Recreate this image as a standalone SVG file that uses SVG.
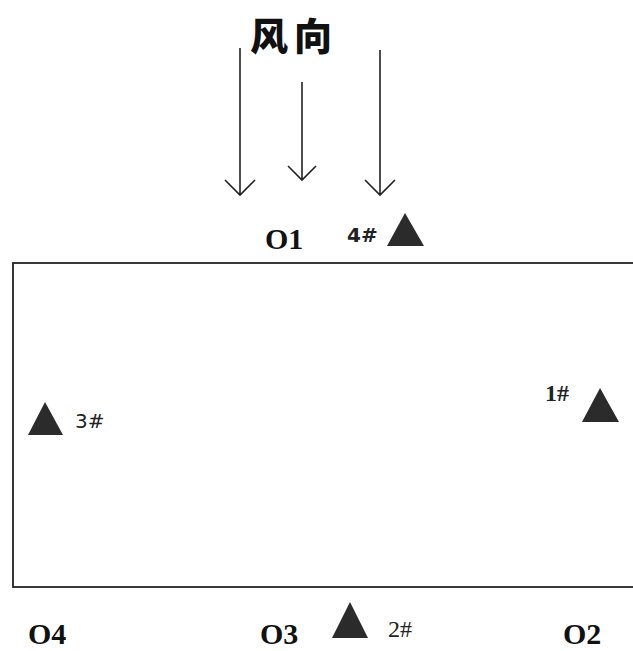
<svg xmlns="http://www.w3.org/2000/svg" width="633" height="651" viewBox="0 0 633 651">
<style>
.arr{stroke:#222;stroke-width:1.6;fill:none}
.tri{fill:#2b2b2b}
.pt{font-family:"Liberation Serif",serif;font-weight:bold;font-size:30px;fill:#111}
.lb{font-family:"DejaVu Sans","Liberation Sans",sans-serif;font-size:20px;fill:#222}
.lbs{font-family:"Liberation Serif",serif;font-size:24px;fill:#222}
</style>
<rect x="0" y="0" width="633" height="651" fill="#fff"/>
<g id="area"><rect x="13" y="263" width="640" height="324" fill="none" stroke="#222" stroke-width="1.8"/></g>
<g id="title"><text x="250" y="50" font-family="'Noto Sans CJK SC',sans-serif" font-weight="900" font-size="38" letter-spacing="6" fill="#111">风向</text></g>
<g id="connectors">
<path class="arr" d="M240 48V195M225 180L240 195L255 180"/>
<path class="arr" d="M302 82V180M288 166L302 180L316 166"/>
<path class="arr" d="M380 50V195M365 180L380 195L395 180" stroke="#555" stroke-width="2.2"/>
</g>
<g id="o1"><text class="pt" x="265" y="249">O1</text></g>
<g id="s4"><polygon class="tri" points="405,213 387,246 424,246"/><text class="lb" x="347" y="242" font-weight="bold">4#</text></g>
<g id="s3"><polygon class="tri" points="45,402 28,435 63,435"/><text class="lb" x="75" y="428">3#</text></g>
<g id="s1"><polygon class="tri" points="600,388 582,422 619,422"/><text class="lbs" x="545" y="401" font-weight="bold">1#</text></g>
<g id="o4"><text class="pt" x="28" y="644">O4</text></g>
<g id="o3"><text class="pt" x="260" y="644">O3</text></g>
<g id="s2"><polygon class="tri" points="350,602 332,638 368,638"/><text class="lbs" x="388" y="637">2#</text></g>
<g id="o2"><text class="pt" x="563" y="644">O2</text></g>
</svg>
